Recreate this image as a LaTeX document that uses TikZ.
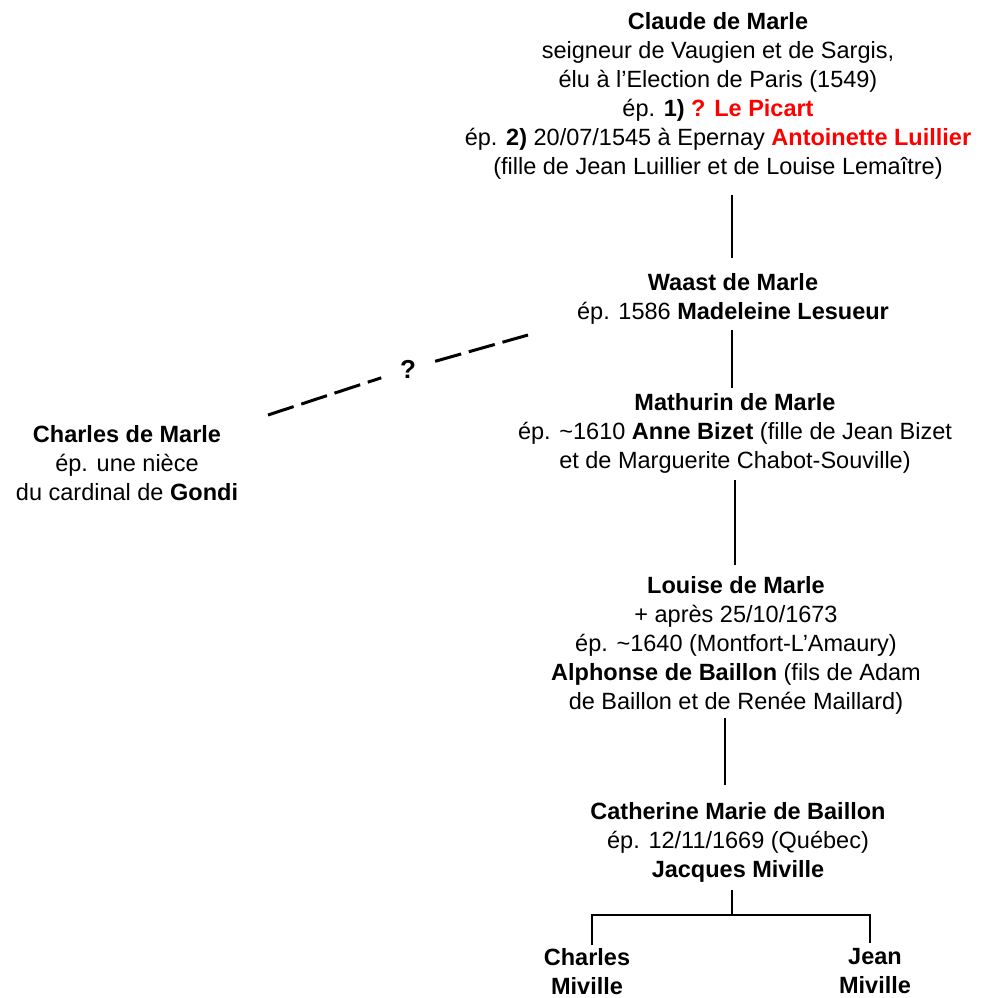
\documentclass[tikz,border=0pt]{standalone}
\usepackage{fontspec}
\setmainfont{Liberation Sans}
\definecolor{namered}{RGB}{255,0,0}
\begin{document}
\begin{tikzpicture}[x=1pt,y=-1pt,
  person/.style={align=center, inner sep=0pt, anchor=north, font=\fontsize{23.5}{29}\selectfont},
  link/.style={line width=2pt},
  guess/.style={line width=3pt, dash pattern=on 27pt off 8pt}]
\useasboundingbox[fill=white] (0,0) rectangle (986,998);
\node[person] (claude) at (718,12) {\textbf{Claude de Marle}\\
  seigneur de Vaugien et de Sargis,\\
  élu à l’Election de Paris (1549)\\
  ép. \textbf{1)} \textcolor{namered}{\textbf{? Le Picart}}\\
  ép. \textbf{2)} 20/07/1545 à Epernay \textcolor{namered}{\textbf{Antoinette Luillier}}\\
  (fille de Jean Luillier et de Louise Lemaître)};
\node[person] (waast) at (733,273) {\textbf{Waast de Marle}\\
  ép. 1586 \textbf{Madeleine Lesueur}};
\node[person] (mathurin) at (735,393) {\textbf{Mathurin de Marle}\\
  ép. \textasciitilde1610 \textbf{Anne Bizet} (fille de Jean Bizet\\
  et de Marguerite Chabot-Souville)};
\node[person] (louise) at (736,576) {\textbf{Louise de Marle}\\
  + après 25/10/1673\\
  ép. \textasciitilde1640 (Montfort-L’Amaury)\\
  \textbf{Alphonse de Baillon} (fils de Adam\\
  de Baillon et de Renée Maillard)};
\node[person] (catherine) at (738,802) {\textbf{Catherine Marie de Baillon}\\
  ép. 12/11/1669 (Québec)\\
  \textbf{Jacques Miville}};
\node[person] (charlesm) at (587,948) {\textbf{Charles}\\ \textbf{Miville}};
\node[person] (jeanm) at (875,948) {\textbf{Jean}\\ \textbf{Miville}};
\node[person] (charles) at (127,425) {\textbf{Charles de Marle}\\
  ép. une nièce\\
  du cardinal de \textbf{Gondi}};
% connectors
\draw[link, shorten <=16pt, shorten >=15pt] (claude.south -| 732,0) -- (waast.north -| 732,0);
\draw[link, shorten <=6pt, shorten >=5pt] (waast.south -| 732,0) -- (mathurin.north -| 732,0);
\draw[link, shorten <=7pt, shorten >=11pt] (mathurin.south -| 735,0) -- (louise.north -| 735,0);
\draw[link, shorten <=4pt, shorten >=17pt] (louise.south -| 725,0) -- (catherine.north -| 725,0);
\coordinate (fork) at (732,915);
\draw[link, shorten <=8pt] (catherine.south -| fork) -- (fork);
\draw[link] ([xshift=5pt,yshift=3pt]charlesm.north) |- (fork) -| ([xshift=-5pt,yshift=5pt]jeanm.north);
% uncertain link
\coordinate (dl) at (268,415);
\coordinate (dr) at (528,335);
\node[circle, minimum size=56pt, inner sep=0pt, font=\fontsize{26}{30}\selectfont\bfseries] (q) at (408,369) {?};
\draw[guess] (dl) -- (q);
\draw[guess] (q) -- (dr);
\end{tikzpicture}
\end{document}
